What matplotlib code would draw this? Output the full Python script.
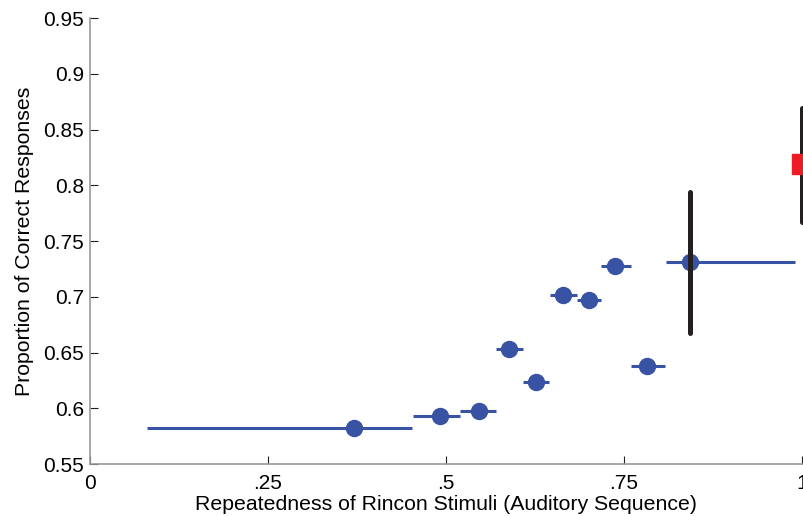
import matplotlib

matplotlib.use("Agg")
import matplotlib.pyplot as plt

# Proportion correct per repeatedness bin (centre, bin range)
rep_centre = [0.371, 0.491, 0.546, 0.588, 0.626, 0.665, 0.701, 0.737, 0.783, 0.842]
rep_low = [0.080, 0.453, 0.519, 0.570, 0.608, 0.646, 0.684, 0.718, 0.760, 0.809]
rep_high = [0.452, 0.519, 0.570, 0.608, 0.644, 0.684, 0.718, 0.760, 0.808, 0.990]
prop_correct = [0.5823, 0.5933, 0.5973, 0.6529, 0.6233, 0.7016, 0.6974, 0.7273, 0.6382, 0.7312]

# Overall summary with confidence interval, and the fully repeated condition
summary_x = 0.842
summary_lo, summary_hi = 0.6678, 0.7942
repeat_x = 1.0
repeat_y = 0.8189
repeat_lo, repeat_hi = 0.7673, 0.869

xticks = [0, 0.25, 0.5, 0.75, 1]
xtick_labels = ["0", ".25", ".5", ".75", "1"]
yticks = [0.55, 0.6, 0.65, 0.7, 0.75, 0.8, 0.85, 0.9, 0.95]
ytick_labels = ["0.55", "0.6", "0.65", "0.7", "0.75", "0.8", "0.85", "0.9", "0.95"]

plt.rcParams["font.family"] = ["Liberation Sans", "DejaVu Sans"]

BLUE = "#3953a4"
RED = "#ed1c24"

fig = plt.figure(figsize=(8.04, 5.16), dpi=100)
ax = fig.add_axes([90 / 804, 1 - 464 / 516, 712 / 804, 446 / 516])

ax.hlines(prop_correct, rep_low, rep_high, color=BLUE, linewidth=2.2, zorder=2)
ax.plot(rep_centre, prop_correct, "o", color=BLUE, markersize=11.5, zorder=3)

ax.vlines(summary_x, summary_lo, summary_hi, color="#231f20", linewidth=3.6,
          capstyle="round", zorder=4)
ax.vlines(repeat_x, repeat_lo, repeat_hi, color="#231f20", linewidth=3.6,
          capstyle="round", zorder=4, clip_on=False)
ax.plot([repeat_x], [repeat_y], "s", color=RED, markersize=14.5, zorder=5, clip_on=False)

ax.set_xlim(0, 1)
ax.set_ylim(0.55, 0.95)
ax.set_xticks(xticks)
ax.set_xticklabels(xtick_labels)
ax.set_yticks(yticks)
ax.set_yticklabels(ytick_labels)

for side in ("top", "right"):
    ax.spines[side].set_visible(False)
for side in ("left", "bottom"):
    ax.spines[side].set_color("#9a9a9a")
    ax.spines[side].set_linewidth(1.2)
ax.tick_params(direction="in", length=6, width=0.8, color="#231f20", labelsize=15)
ax.tick_params(axis="x", pad=7.5)
ax.tick_params(axis="y", pad=4.2)

ax.set_xlabel("Repeatedness of Rincon Stimuli (Auditory Sequence)", fontsize=15.3, labelpad=1)
ax.set_ylabel("Proportion of Correct Responses", fontsize=15.3, labelpad=7)

fig.savefig("out.png", dpi=100)
